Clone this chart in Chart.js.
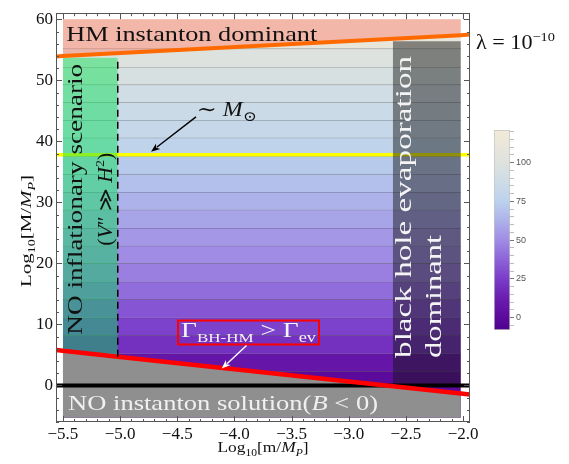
<!DOCTYPE html>
<html>
<head>
<meta charset="utf-8">
<script src="https://cdn.jsdelivr.net/npm/chart.js@4/dist/chart.umd.min.js"></script>
<style>
  html, body { margin: 0; padding: 0; background: #ffffff; }
  #wrap { position: relative; width: 569px; height: 464px; }
  #main { position: absolute; left: 0; top: 0; }
  #cbar { position: absolute; left: 486px; top: 122px; }
</style>
</head>
<body>
<div id="wrap">
  <canvas id="main" width="569" height="464"></canvas>
  <canvas id="cbar" width="70" height="216"></canvas>
</div>
<script>
// ---------------- data ----------------
const xTicks = [-5.5, -5.0, -4.5, -4.0, -3.5, -3.0, -2.5, -2.0];
const yTicks = [0, 10, 20, 30, 40, 50, 60];
const colorbarTicks = [0, 25, 50, 75, 100];
const colorbarRange = [-8, 121];

// extent of the shaded parameter region (log10 m/M_P)
const regionX = [-5.5, -2.02];
const regionBottom = -5.3;
const regionTop = 60;

// upper edge of each contour band (log10 M/M_P) and the band's colour value
const contourLevels = [2.3, 5.2, 8.2, 11.1, 14.1, 17.0, 20.0, 22.9, 25.8, 28.8, 31.7, 34.6, 37.6, 40.6, 43.5, 46.4, 49.3, 52.2, 55.2, 60.0];
const bandValues    = [0, 8, 20, 27, 33, 40, 46, 50, 54, 58, 63, 68, 72, 77, 82, 86, 90, 95, 100, 110];

// Gamma_BH-HM = Gamma_ev boundary (red)
const redLineX = [-5.56, -5.5, -5.02, -2.02, -1.94];
const redLineY = [5.8, 5.68, 4.71, -1.34, -1.5];
// HM instanton boundary (orange), lambda = 1e-10
const orangeLineX = [-5.56, -5.5, -2.02, -1.94];
const orangeLineY = [53.9, 54.0, 57.4, 57.5];
// solar mass line and B = 0 line
const solarMass = 37.8;
const zeroLevel = 0;
const lineSpanX = [-5.56, -1.94];
// NO inflationary scenario region and black hole evaporation region
const inflationEdgeX = -5.02;
const inflationTop = 53.7;
const evaporationEdgeX = -2.615;
const evaporationTop = 56.4;

// ---------------- styles ----------------
const cmapStops = [
  [-8, [80, 0, 140]], [0, [92, 10, 156]], [12, [106, 28, 174]], [25, [122, 60, 200]],
  [37, [140, 98, 216]], [50, [160, 140, 228]], [62, [172, 176, 234]], [75, [188, 210, 236]],
  [88, [206, 220, 230]], [100, [222, 226, 222]], [112, [234, 230, 218]], [121, [242, 234, 216]]
];
function cmap(v) {
  for (let i = 0; i < cmapStops.length - 1; i++) {
    const [a, ca] = cmapStops[i], [b, cb] = cmapStops[i + 1];
    if (v <= b || i === cmapStops.length - 2) {
      const t = Math.max(0, Math.min(1, (v - a) / (b - a)));
      const c = ca.map((k, j) => Math.round(k + (cb[j] - k) * t));
      return `rgb(${c[0]},${c[1]},${c[2]})`;
    }
  }
}
const SERIF = '"Liberation Serif", "DejaVu Serif", serif';
const pts = (xs, ys) => xs.map((x, i) => ({ x, y: ys[i] }));
const none = 'rgba(0,0,0,0)';

// ---------------- datasets ----------------
const datasets = [];
contourLevels.forEach((top, i) => {
  const bottom = i === 0 ? regionBottom : contourLevels[i - 1];
  datasets.push({
    data: regionX.map(x => ({ x, y: top })),
    fill: { value: bottom },
    backgroundColor: cmap(bandValues[i]),
    borderColor: i < contourLevels.length - 1 ? 'rgba(45,45,45,0.5)' : none,
    borderWidth: 1, order: 300 - i
  });
});
datasets.push({ data: lineSpanX.map(x => ({ x, y: solarMass })), fill: false,
  borderColor: '#ffff00', borderWidth: 3.5, order: 60 });
datasets.push({ data: pts(redLineX.slice(1, 4), redLineY.slice(1, 4)), fill: { value: regionBottom },
  backgroundColor: '#8f8f8f', borderColor: none, borderWidth: 0, order: 50 });
datasets.push({ data: pts(redLineX.slice(1, 3), redLineY.slice(1, 3)), fill: { value: inflationTop },
  backgroundColor: 'rgba(0,225,80,0.45)', borderColor: none, borderWidth: 0, order: 40 });
datasets.push({ data: pts(orangeLineX.slice(1, 3), orangeLineY.slice(1, 3)), fill: { value: regionTop },
  backgroundColor: 'rgba(255,118,100,0.42)', borderColor: none, borderWidth: 0, order: 40 });
datasets.push({ data: [{ x: evaporationEdgeX, y: zeroLevel }, { x: regionX[1], y: zeroLevel }], fill: { value: evaporationTop },
  backgroundColor: 'rgba(20,20,20,0.48)', borderColor: none, borderWidth: 0, order: 40 });
datasets.push({ data: lineSpanX.map(x => ({ x, y: zeroLevel })), fill: false,
  borderColor: '#000000', borderWidth: 4, order: 20 });
datasets.push({ data: pts(redLineX, redLineY), fill: false,
  borderColor: '#ff0000', borderWidth: 4.5, order: 15 });
datasets.push({ data: pts(orangeLineX, orangeLineY), fill: false,
  borderColor: '#ff6a00', borderWidth: 4, order: 15 });
datasets.push({ data: [{ x: inflationEdgeX, y: redLineY[2] }, { x: inflationEdgeX, y: inflationTop }], fill: false,
  borderColor: '#000000', borderWidth: 1.5, borderDash: [7, 5], order: 10 });
datasets.forEach(d => { d.type = 'line'; d.pointRadius = 0; d.tension = 0; });

// ---------------- drawing helpers ----------------
function rich(ctx, runs, x, y, o) {
  o = o || {};
  ctx.save();
  ctx.translate(x, y);
  if (o.rot) ctx.rotate(o.rot);
  ctx.textBaseline = 'alphabetic';
  ctx.textAlign = 'left';
  let total = 0;
  const ws = runs.map(r => { ctx.font = `${r.style || ''} ${r.size}px ${SERIF}`; const w = ctx.measureText(r.t).width; total += w; return w; });
  const sx = o.width ? o.width / total : 1;
  ctx.scale(sx, 1);
  let cx = o.align === 'center' ? -total / 2 : 0;
  ctx.fillStyle = o.color || '#111';
  runs.forEach((r, i) => {
    ctx.font = `${r.style || ''} ${r.size}px ${SERIF}`;
    ctx.fillText(r.t, cx, r.dy || 0);
    cx += ws[i];
  });
  ctx.restore();
}
function arrow(ctx, x1, y1, x2, y2, color) {
  const ang = Math.atan2(y2 - y1, x2 - x1), hl = 9, hw = 3.5;
  ctx.save();
  ctx.strokeStyle = color; ctx.fillStyle = color; ctx.lineWidth = 1.4;
  ctx.beginPath(); ctx.moveTo(x1, y1);
  ctx.lineTo(x2 - Math.cos(ang) * hl * 0.8, y2 - Math.sin(ang) * hl * 0.8); ctx.stroke();
  ctx.beginPath(); ctx.moveTo(x2, y2);
  ctx.lineTo(x2 - Math.cos(ang) * hl - Math.sin(ang) * hw, y2 - Math.sin(ang) * hl + Math.cos(ang) * hw);
  ctx.lineTo(x2 - Math.cos(ang) * hl * 0.7, y2 - Math.sin(ang) * hl * 0.7);
  ctx.lineTo(x2 - Math.cos(ang) * hl + Math.sin(ang) * hw, y2 - Math.sin(ang) * hl - Math.cos(ang) * hw);
  ctx.closePath(); ctx.fill();
  ctx.restore();
}

const decor = {
  id: 'decor',
  afterDraw(chart) {
    const { ctx, chartArea: a, scales: { x, y } } = chart;
    const X = v => x.getPixelForValue(v), Y = v => y.getPixelForValue(v);

    // annotations
    rich(ctx, [{ t: 'HM instanton dominant', size: 22 }], X(-5.47), Y(56.4), { width: 251, color: '#111' });
    rich(ctx, [{ t: 'λ = 10', size: 20 }, { t: '−10', size: 13, dy: -8 }], a.right + 6, Y(55.1), { width: 79, color: '#111' });
    rich(ctx, [{ t: '∼ ', size: 20 }, { t: 'M', size: 20, style: 'italic' }, { t: '⊙', size: 14, dy: 5 }], X(-4.33), Y(44.2), { width: 60, color: '#111' });
    arrow(ctx, X(-4.336), Y(44.0), X(-4.729), Y(38.3), '#000');
    rich(ctx, [{ t: 'NO inflationary scenario', size: 22 }], X(-5.333), Y(30.5), { rot: -Math.PI / 2, align: 'center', width: 271, color: '#111' });
    rich(ctx, [{ t: '(', size: 20 }, { t: 'V', size: 20, style: 'italic' }, { t: '″ ≫ ', size: 20 }, { t: 'H', size: 20, style: 'italic' }, { t: '2', size: 13, dy: -8 }, { t: ')', size: 20 }],
      X(-5.07), Y(30.5), { rot: -Math.PI / 2, align: 'center', width: 93, color: '#111' });
    rich(ctx, [{ t: 'black hole evaporation', size: 24 }], X(-2.456), Y(4.5), { rot: -Math.PI / 2, width: 302, color: '#f4f4f4' });
    rich(ctx, [{ t: 'dominant', size: 24 }], X(-2.193), Y(4.5), { rot: -Math.PI / 2, width: 123, color: '#f4f4f4' });
    // Gamma box
    ctx.save();
    ctx.strokeStyle = '#ff0000'; ctx.lineWidth = 2;
    ctx.strokeRect(X(-4.493), Y(10.63), X(-3.26) - X(-4.493), Y(6.71) - Y(10.63));
    ctx.restore();
    rich(ctx, [{ t: 'Γ', size: 21 }, { t: 'BH-HM', size: 13, dy: 5 }, { t: ' > Γ', size: 21 }, { t: 'ev', size: 14, dy: 5 }],
      X(-4.467), Y(7.85), { width: 135, color: '#f4f4f4' });
    arrow(ctx, X(-3.894), Y(6.55), X(-4.111), Y(2.75), '#ffffff');
    rich(ctx, [{ t: 'NO instanton solution(', size: 22 }, { t: 'B', size: 22, style: 'italic' }, { t: ' < 0)', size: 22 }],
      X(-5.455), Y(-4.05), { width: 310, color: '#f0f0f0' });

    // axis titles
    rich(ctx, [{ t: 'Log', size: 15 }, { t: '10', size: 10, dy: 4 }, { t: '[m/', size: 15 }, { t: 'M', size: 15, style: 'italic' }, { t: 'P', size: 10, style: 'italic', dy: 4 }, { t: ']', size: 15 }],
      (a.left + a.right) / 2, 452, { align: 'center', width: 91, color: '#111' });
    rich(ctx, [{ t: 'Log', size: 15 }, { t: '10', size: 10, dy: 4 }, { t: '[M/', size: 15 }, { t: 'M', size: 15, style: 'italic' }, { t: 'P', size: 10, style: 'italic', dy: 4 }, { t: ']', size: 15 }],
      31, 231, { rot: -Math.PI / 2, align: 'center', width: 112, color: '#111' });

    // frame and inward ticks
    ctx.save();
    ctx.strokeStyle = '#555'; ctx.lineWidth = 1;
    ctx.strokeRect(Math.round(a.left) + 0.5, Math.round(a.top) + 0.5, Math.round(a.width) - 1, Math.round(a.height) - 1);
    ctx.beginPath();
    for (let k = -55; k <= -20; k++) {
      const v = k / 10, px = Math.round(X(v)) + 0.5, len = k % 5 === 0 ? 6 : 3;
      ctx.moveTo(px, a.bottom); ctx.lineTo(px, a.bottom - len);
      ctx.moveTo(px, a.top); ctx.lineTo(px, a.top + len);
    }
    for (let v = -6; v <= 60; v += 2) {
      const py = Math.round(Y(v)) + 0.5, len = v % 10 === 0 ? 6 : 3;
      ctx.moveTo(a.left, py); ctx.lineTo(a.left + len, py);
      ctx.moveTo(a.right, py); ctx.lineTo(a.right - len, py);
    }
    ctx.stroke();
    ctx.restore();
  }
};

Chart.defaults.font.family = SERIF;
new Chart(document.getElementById('main'), {
  type: 'line',
  data: { datasets },
  options: {
    responsive: false, animation: false, devicePixelRatio: 1,
    layout: { padding: { left: 0, top: 11, right: 99, bottom: 0 } },
    plugins: { legend: { display: false }, tooltip: { enabled: false } },
    scales: {
      x: {
        type: 'linear', min: -5.56, max: -1.94,
        grid: { display: false, drawTicks: false }, border: { display: false },
        afterBuildTicks: s => { s.ticks = xTicks.map(v => ({ value: v })); },
        afterFit: s => { s.height = 42; },
        ticks: { font: { size: 17, family: SERIF }, color: '#111', padding: 2, maxRotation: 0, autoSkip: false,
          callback: v => (v < 0 ? '\u2212' : '') + Math.abs(v).toFixed(1) }
      },
      y: {
        type: 'linear', min: -6, max: 61,
        grid: { display: false, drawTicks: false }, border: { display: false },
        afterBuildTicks: s => { s.ticks = yTicks.map(v => ({ value: v })); },
        afterFit: s => { s.width = 56; },
        ticks: { font: { size: 17, family: SERIF }, color: '#111', padding: 3, autoSkip: false,
          callback: v => String(v) }
      }
    }
  },
  plugins: [decor]
});

// ---------------- colour bar ----------------
function barGradient(context) {
  const ch = context.chart, area = ch.chartArea;
  if (!area) return cmap(60);
  const ys = ch.scales.y;
  const g = ch.ctx.createLinearGradient(0, ys.getPixelForValue(colorbarRange[0]), 0, ys.getPixelForValue(colorbarRange[1]));
  cmapStops.forEach(([v]) => g.addColorStop((v - colorbarRange[0]) / (colorbarRange[1] - colorbarRange[0]), cmap(v)));
  return g;
}
new Chart(document.getElementById('cbar'), {
  type: 'bar',
  data: { labels: [''], datasets: [{ data: [colorbarRange], backgroundColor: barGradient, borderColor: '#c4c4c4',
    borderWidth: 1, borderSkipped: false, barPercentage: 1, categoryPercentage: 1 }] },
  options: {
    responsive: false, animation: false, devicePixelRatio: 1,
    layout: { padding: { left: 8, top: 8, bottom: 8, right: 0 } },
    plugins: { legend: { display: false }, tooltip: { enabled: false } },
    scales: {
      x: { display: false },
      y: {
        position: 'right', min: colorbarRange[0], max: colorbarRange[1],
        afterBuildTicks: s => { const t = []; for (let v = -5; v <= 120; v += 5) t.push({ value: v }); s.ticks = t; },
        afterFit: s => { s.width = 46; },
        grid: { drawOnChartArea: false, tickLength: 4, tickColor: c => (c.tick && c.tick.value % 25 === 0) ? '#777' : '#bbb' },
        border: { display: false },
        ticks: { autoSkip: false, font: { size: 9, family: '"Liberation Sans", Arial, sans-serif' }, color: '#555', padding: 2,
          callback: v => colorbarTicks.includes(v) ? String(v) : '' }
      }
    }
  }
});
</script>
</body>
</html>
